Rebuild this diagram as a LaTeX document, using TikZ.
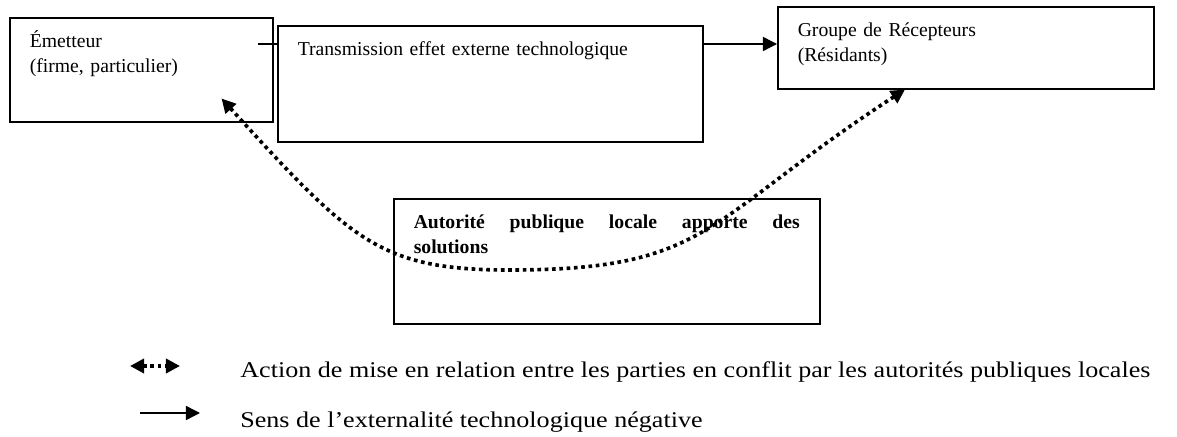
\documentclass[tikz,border=0pt]{standalone}
\usepackage{fontspec}
\setmainfont{Liberation Serif}
\usetikzlibrary{arrows.meta, calc, positioning}

\begin{document}
\begin{tikzpicture}[
  boite/.style={draw, line width=1.1pt, anchor=north west, align=left,
    inner xsep=0.5cm, inner ysep=8.3pt, text height=13pt,
    font=\fontsize{14}{17.8}\selectfont},
  fleche/.style={line width=1pt, -{Triangle[length=10pt,width=10pt]}},
  pointille/.style={line width=2.6pt, dash pattern=on 2.6pt off 2.6pt,
    {Triangle[length=10pt,width=10pt]}-{Triangle[length=10pt,width=10pt]}},
  legende/.style={anchor=base west, inner sep=0pt, xscale=1.16,
    font=\fontsize{16}{19}\selectfont}
]
  \useasboundingbox (0,0) rectangle (29.425,-10.925);

  % Les trois acteurs
  \node[boite, text width=5.575cm, text depth=1.559cm] (emetteur) at (0.225,-0.425)
    {Émetteur\\(firme, particulier)};
  \node[boite, text width=9.625cm, text depth=1.859cm] (transmission) at (6.925,-0.625)
    {Transmission effet externe technologique};
  \node[boite, text width=8.4cm, text depth=1.009cm] (recepteurs) at (19.425,-0.15)
    {Groupe de Récepteurs\\(Résidants)};

  % L'autorite publique
  \node[boite, align=justify, text width=9.65cm, text depth=2.084cm,
    font=\fontsize{14}{17.8}\selectfont\bfseries] (autorite) at (9.825,-4.95)
    {Autorité publique locale apporte des\linebreak solutions};

  % Sens de l'effet externe
  \coordinate (depart) at ($(transmission.north west)+(-0.475,-0.475)$);
  \draw[line width=1pt] (depart) -- (depart -| transmission.west);
  \draw[fleche] (depart -| transmission.east) -- (depart -| recepteurs.west);

  % Mise en relation
  \coordinate (pointe emetteur) at ($(emetteur.south east)+(-1.3,0.6)$);
  \coordinate (creux) at ($(autorite.north west)+(2.925,-1.8)$);
  \coordinate (pointe recepteurs) at ($(recepteurs.south west)+(3.2,0)$);
  \draw[pointille] (pointe emetteur) .. controls +(3.25,-3.575) and +(-3.25,0) .. (creux)
    .. controls +(5.025,0) and +(-5.025,-3.27) .. (pointe recepteurs);

  % Legende
  \node[legende] (cle action) at (6,-9.45)
    {Action de mise en relation entre les parties en conflit par les autorités publiques locales};
  \node[legende] (cle sens) at (6,-10.675)
    {Sens de l’externalité technologique négative};
  \coordinate (cle1 g) at ($(cle action.base west)+(-2.75,0.3)$);
  \coordinate (cle1 d) at ($(cle action.base west)+(-1.5,0.3)$);
  \coordinate (cle2 g) at ($(cle sens.base west)+(-2.5,0.35)$);
  \coordinate (cle2 d) at ($(cle sens.base west)+(-1,0.35)$);
  \draw[pointille] (cle1 g) -- (cle1 d);
  \draw[fleche] (cle2 g) -- (cle2 d);
\end{tikzpicture}
\end{document}
